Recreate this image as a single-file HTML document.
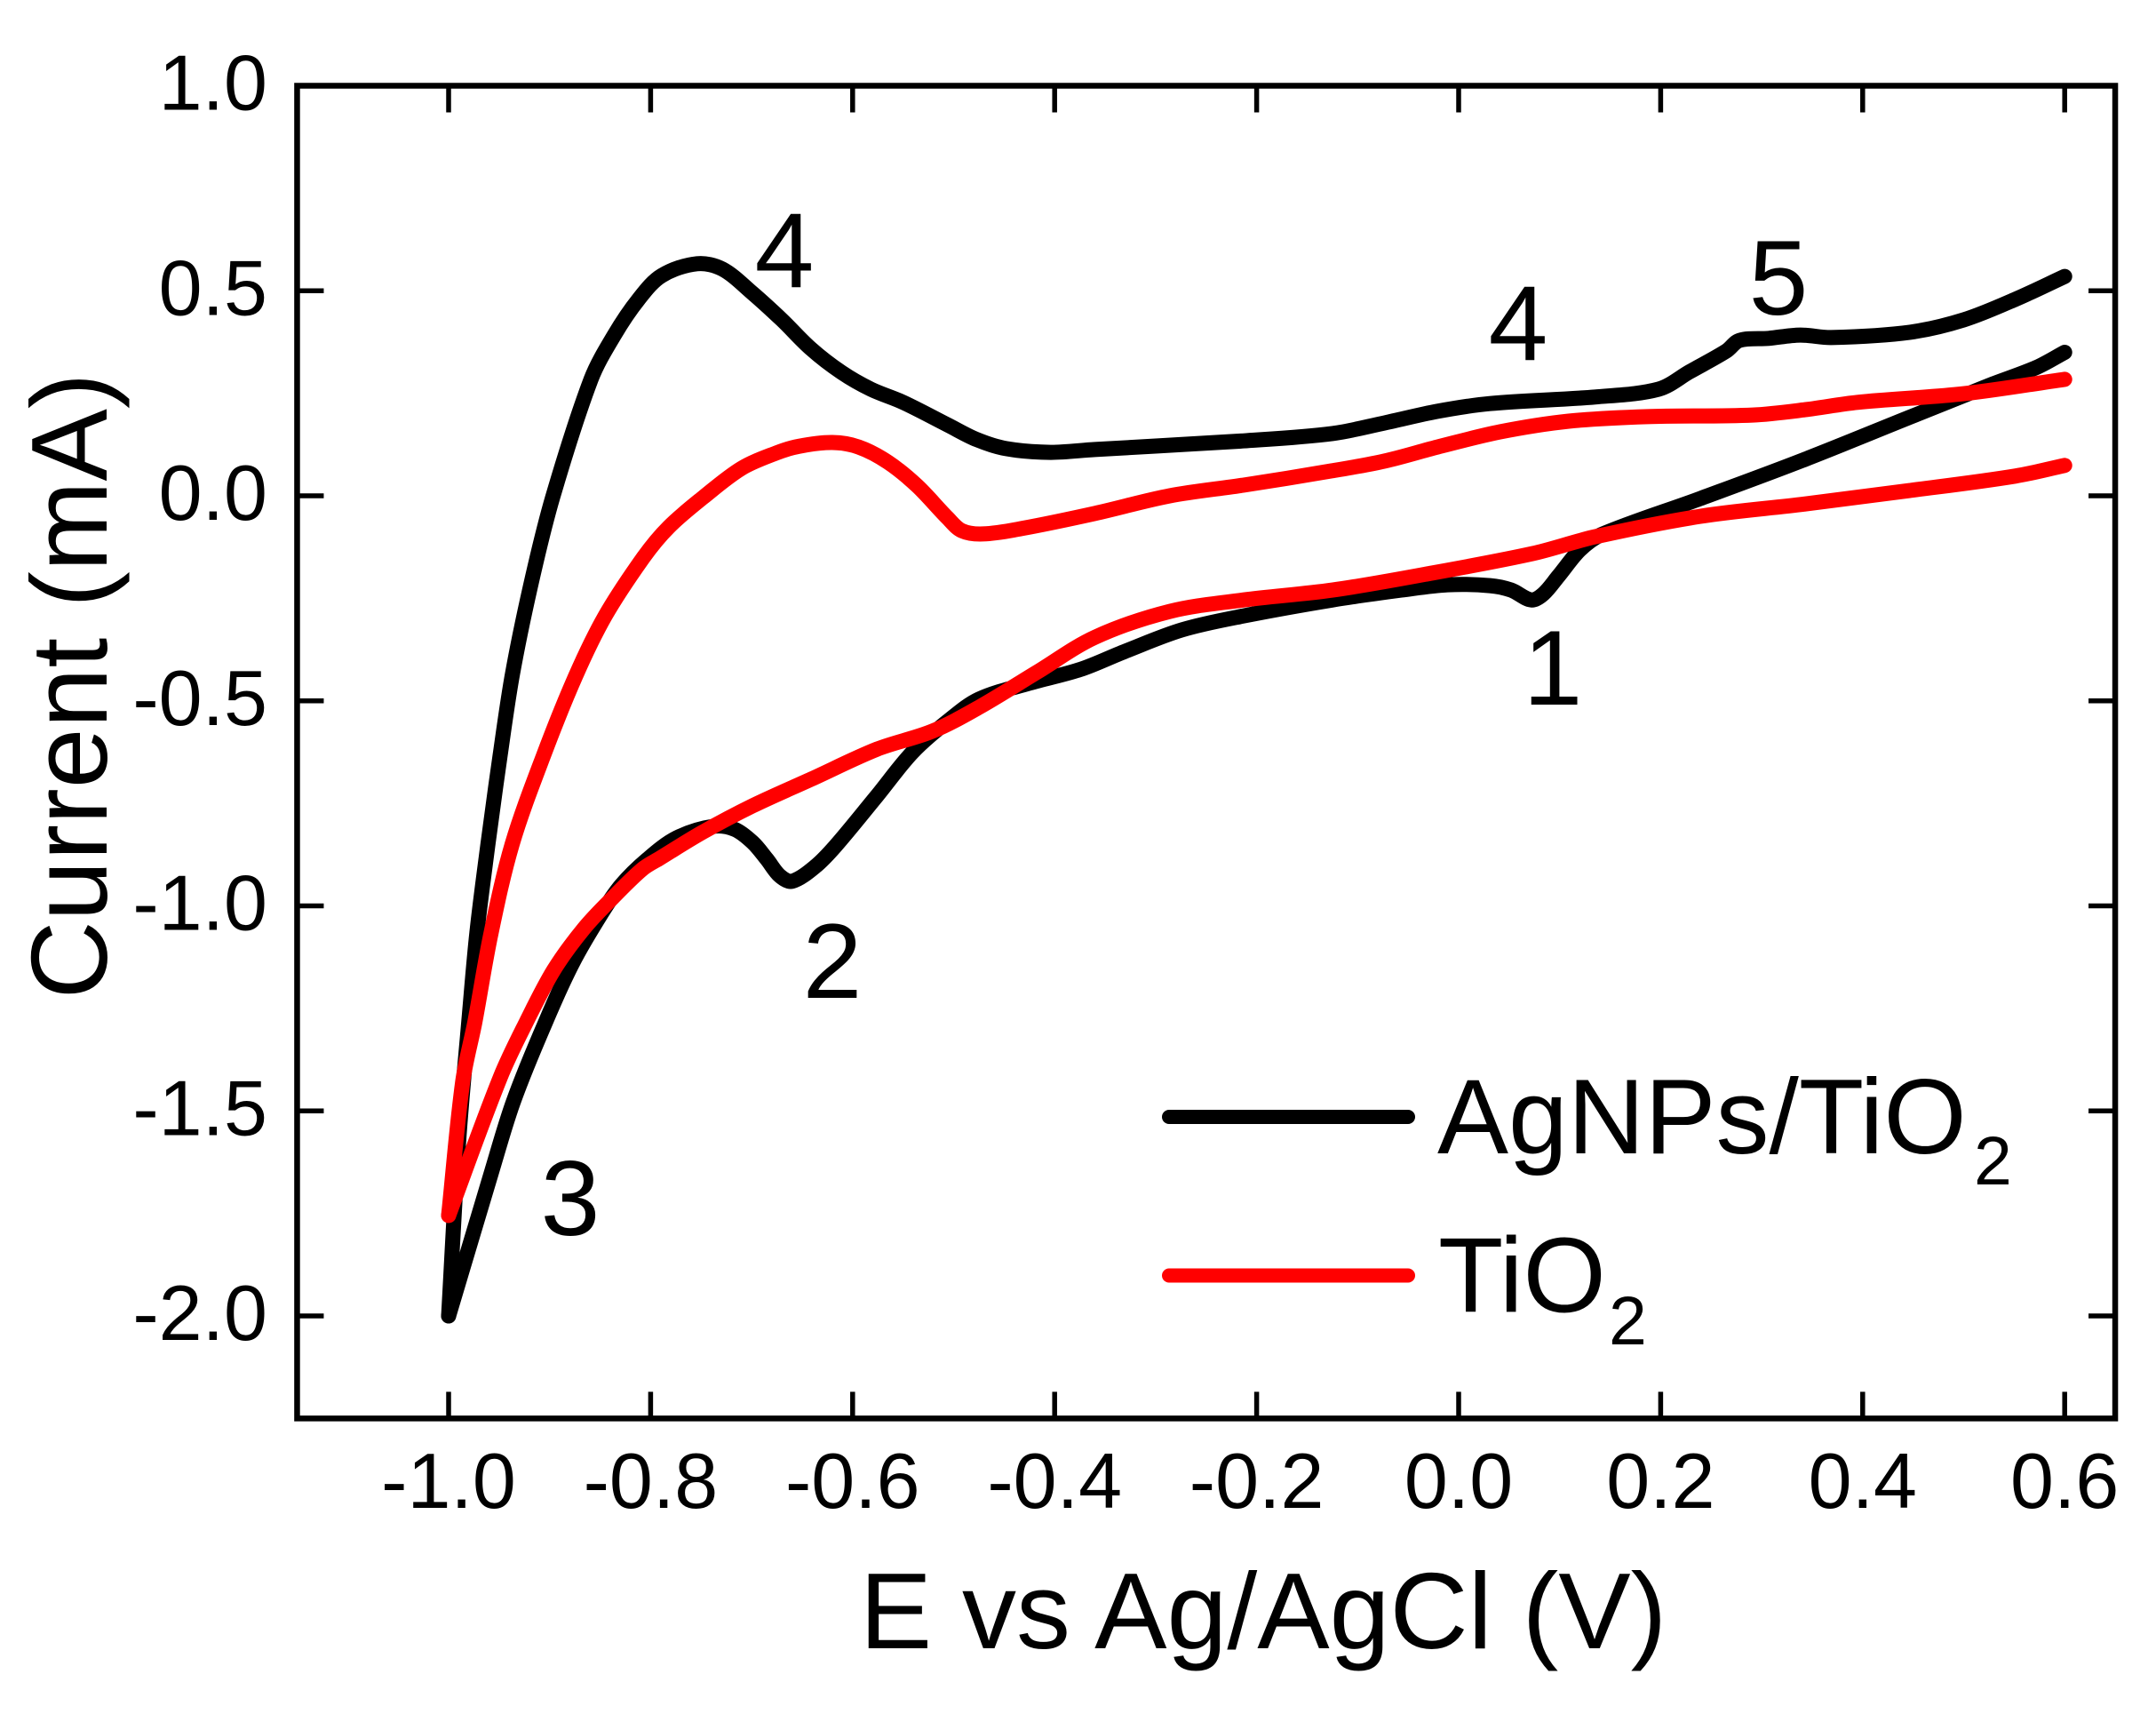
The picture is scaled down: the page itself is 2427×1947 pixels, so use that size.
<!DOCTYPE html>
<html lang="en">
<head>
<meta charset="utf-8">
<title>Cyclic voltammogram of AgNPs/TiO2 and TiO2</title>
<style>
  html, body { margin: 0; padding: 0; background: #fff; }
  svg { display: block; }
  text { font-family: "Liberation Sans", Arial, sans-serif; fill: #000; }
</style>
</head>
<body>
<svg id="chart" xmlns="http://www.w3.org/2000/svg" width="2427" height="1947" viewBox="0 0 2427 1947">
  <rect x="0" y="0" width="2427" height="1947" fill="#fff"/>
  <g id="series-layer"></g>
  <rect id="frame" fill="none" stroke="#000" stroke-width="6.5"/>
  <g id="tick-layer"></g>
  <text x="1422" y="1855" font-size="122" text-anchor="middle">E vs Ag/AgCl (V)</text>
  <text transform="translate(120 772) rotate(-90)" font-size="122" text-anchor="middle">Current (mA)</text>
  <text x="883" y="323" font-size="120" text-anchor="middle">4</text>
  <text x="1709" y="405" font-size="120" text-anchor="middle">4</text>
  <text x="2002" y="354" font-size="120" text-anchor="middle">5</text>
  <text x="1748" y="793" font-size="120" text-anchor="middle">1</text>
  <text x="937" y="1123" font-size="120" text-anchor="middle">2</text>
  <text x="642" y="1390" font-size="120" text-anchor="middle">3</text>
  <line x1="1316" y1="1257" x2="1585" y2="1257" stroke="#000" stroke-width="16" stroke-linecap="round"/>
  <text x="1618" y="1298" font-size="120">AgNPs/TiO</text>
  <text x="2222" y="1333" font-size="77">2</text>
  <line x1="1316" y1="1435.5" x2="1585" y2="1435.5" stroke="#f00" stroke-width="16" stroke-linecap="round"/>
  <text x="1619" y="1476.5" font-size="120">TiO</text>
  <text x="1811" y="1513" font-size="77">2</text>
</svg>
<script>
const xTicks = [-1.0, -0.8, -0.6, -0.4, -0.2, 0.0, 0.2, 0.4, 0.6];
const yTicks = [1.0, 0.5, 0.0, -0.5, -1.0, -1.5, -2.0];

const agUpperE = [-1,-.99,-.98,-.972,-.961,-.949,-.937,-.919,-.897,-.859,-.836,-.812,-.789,-.754,-.729,-.699,-.67,-.641,-.611,-.582,-.55,-.506,-.477,-.448,-.404,-.36,-.213,-.125,-.073,-.021,.031,.135,.198,.229,.265,.278,.307,.338,.369,.447,.5,.551,.6];
const agUpperI = [-2,-1.571,-1.283,-1.066,-.849,-.633,-.438,-.221,-.004,.284,.392,.479,.537,.566,.553,.494,.429,.358,.301,.26,.228,.173,.137,.115,.106,.113,.134,.152,.178,.206,.225,.241,.26,.303,.353,.379,.384,.392,.386,.399,.429,.479,.535];

const agLowerE = [-1,-.957,-.936,-.904,-.877,-.848,-.829,-.803,-.774,-.738,-.717,-.699,-.685,-.672,-.66,-.637,-.617,-.576,-.541,-.506,-.475,-.425,-.374,-.33,-.274,-.213,-.125,-.057,-.011,.031,.052,.072,.084,.099,.12,.141,.239,.343,.447,.525,.572,.6];
const agLowerI = [-2,-1.645,-1.478,-1.283,-1.138,-1.016,-.949,-.886,-.834,-.806,-.813,-.845,-.886,-.927,-.94,-.904,-.854,-.732,-.626,-.55,-.496,-.457,-.423,-.379,-.327,-.293,-.254,-.23,-.217,-.219,-.23,-.254,-.239,-.195,-.132,-.095,-.007,.089,.192,.269,.313,.35];

const tiUpperE = [-1,-.986,-.974,-.958,-.937,-.906,-.874,-.845,-.807,-.782,-.748,-.71,-.676,-.653,-.62,-.594,-.565,-.536,-.506,-.492,-.471,-.433,-.36,-.286,-.213,-.125,-.073,-.021,.041,.109,.187,.291,.343,.395,.5,.6];
const tiUpperI = [-1.755,-1.428,-1.283,-1.066,-.849,-.633,-.438,-.293,-.15,-.076,-.004,.067,.104,.121,.13,.119,.082,.024,-.054,-.085,-.093,-.08,-.043,0,.026,.061,.085,.119,.156,.182,.193,.197,.21,.228,.249,.284];

const tiLowerE = [-1,-.949,-.923,-.896,-.866,-.837,-.808,-.791,-.749,-.699,-.641,-.576,-.521,-.475,-.418,-.36,-.286,-.213,-.125,-.032,.073,.135,.239,.343,.447,.551,.6];
const tiLowerI = [-1.755,-1.419,-1.283,-1.157,-1.055,-.979,-.91,-.884,-.821,-.756,-.691,-.618,-.574,-.516,-.431,-.345,-.282,-.254,-.23,-.191,-.141,-.1,-.05,-.02,.013,.048,.074];

const SVG_NS = 'http://www.w3.org/2000/svg';
const xDomainLeft = -1.15, xDomainRight = 0.65, yDomainTop = 1.0, yDomainBottom = -2.25;
function xScale(v) { return 1642 + 1137 * v; }
function yScale(v) { return 558 - 461.5 * v; }

function smoothPath(xs, ys) {
  const p = xs.map((x, i) => [xScale(x), yScale(ys[i])]);
  const n = p.length;
  const dist = [];
  for (let i = 0; i < n - 1; i++) {
    dist.push(Math.hypot(p[i + 1][0] - p[i][0], p[i + 1][1] - p[i][1]) || 1);
  }
  const tan = p.map((pt, i) => {
    const a = p[Math.max(i - 1, 0)], c = p[Math.min(i + 1, n - 1)];
    const span = (i > 0 ? dist[i - 1] : 0) + (i < n - 1 ? dist[i] : 0);
    return [(c[0] - a[0]) / span, (c[1] - a[1]) / span];
  });
  let d = 'M' + p[0][0].toFixed(1) + ' ' + p[0][1].toFixed(1);
  for (let i = 0; i < n - 1; i++) {
    const h = dist[i] / 3;
    d += 'C' + (p[i][0] + tan[i][0] * h).toFixed(1) + ' ' + (p[i][1] + tan[i][1] * h).toFixed(1) + ' ' +
      (p[i + 1][0] - tan[i + 1][0] * h).toFixed(1) + ' ' + (p[i + 1][1] - tan[i + 1][1] * h).toFixed(1) + ' ' +
      p[i + 1][0].toFixed(1) + ' ' + p[i + 1][1].toFixed(1);
  }
  return d;
}

const seriesLayer = document.getElementById('series-layer');
function addCurve(xs, ys, color, name) {
  const el = document.createElementNS(SVG_NS, 'path');
  el.setAttribute('d', smoothPath(xs, ys));
  el.setAttribute('fill', 'none');
  el.setAttribute('stroke', color);
  el.setAttribute('stroke-width', '17');
  el.setAttribute('stroke-linecap', 'round');
  el.setAttribute('stroke-linejoin', 'round');
  
  
  seriesLayer.appendChild(el);
}
addCurve(agUpperE, agUpperI, '#000', 'agnps-tio2-anodic-curve');
addCurve(agLowerE, agLowerI, '#000', 'agnps-tio2-cathodic-curve');
addCurve(tiUpperE, tiUpperI, '#f00', 'tio2-anodic-curve');
addCurve(tiLowerE, tiLowerI, '#f00', 'tio2-cathodic-curve');

const frame = document.getElementById('frame');
const left = xScale(xDomainLeft), right = xScale(xDomainRight);
const top_ = yScale(yDomainTop), bottom = yScale(yDomainBottom);
frame.setAttribute('x', left);
frame.setAttribute('y', top_);
frame.setAttribute('width', right - left);
frame.setAttribute('height', bottom - top_);

const tickLayer = document.getElementById('tick-layer');
function addTick(x1, y1, x2, y2, name) {
  const el = document.createElementNS(SVG_NS, 'line');
  el.setAttribute('x1', x1);
  el.setAttribute('y1', y1);
  el.setAttribute('x2', x2);
  el.setAttribute('y2', y2);
  el.setAttribute('stroke', '#000');
  el.setAttribute('stroke-width', '5.5');
  
  
  tickLayer.appendChild(el);
}
function addLabel(x, y, anchor, str, name) {
  const el = document.createElementNS(SVG_NS, 'text');
  el.setAttribute('x', x);
  el.setAttribute('y', y);
  el.setAttribute('font-size', '88');
  el.setAttribute('text-anchor', anchor);
  el.textContent = str;
  
  
  tickLayer.appendChild(el);
}
const TICK_LEN = 30;
xTicks.forEach(function (v) {
  const x = xScale(v);
  addTick(x, bottom, x, bottom - TICK_LEN, 'x-tick');
  addTick(x, top_, x, top_ + TICK_LEN, 'x-tick-top');
  addLabel(x, 1697, 'middle', v.toFixed(1), 'x-tick-label');
});
yTicks.forEach(function (v) {
  const y = yScale(v);
  if (v !== yDomainTop) {
    addTick(left, y, left + TICK_LEN, y, 'y-tick');
    addTick(right, y, right - TICK_LEN, y, 'y-tick-right');
  }
  addLabel(301, y + 27, 'end', v.toFixed(1), 'y-tick-label');
});
</script>
</body>
</html>
